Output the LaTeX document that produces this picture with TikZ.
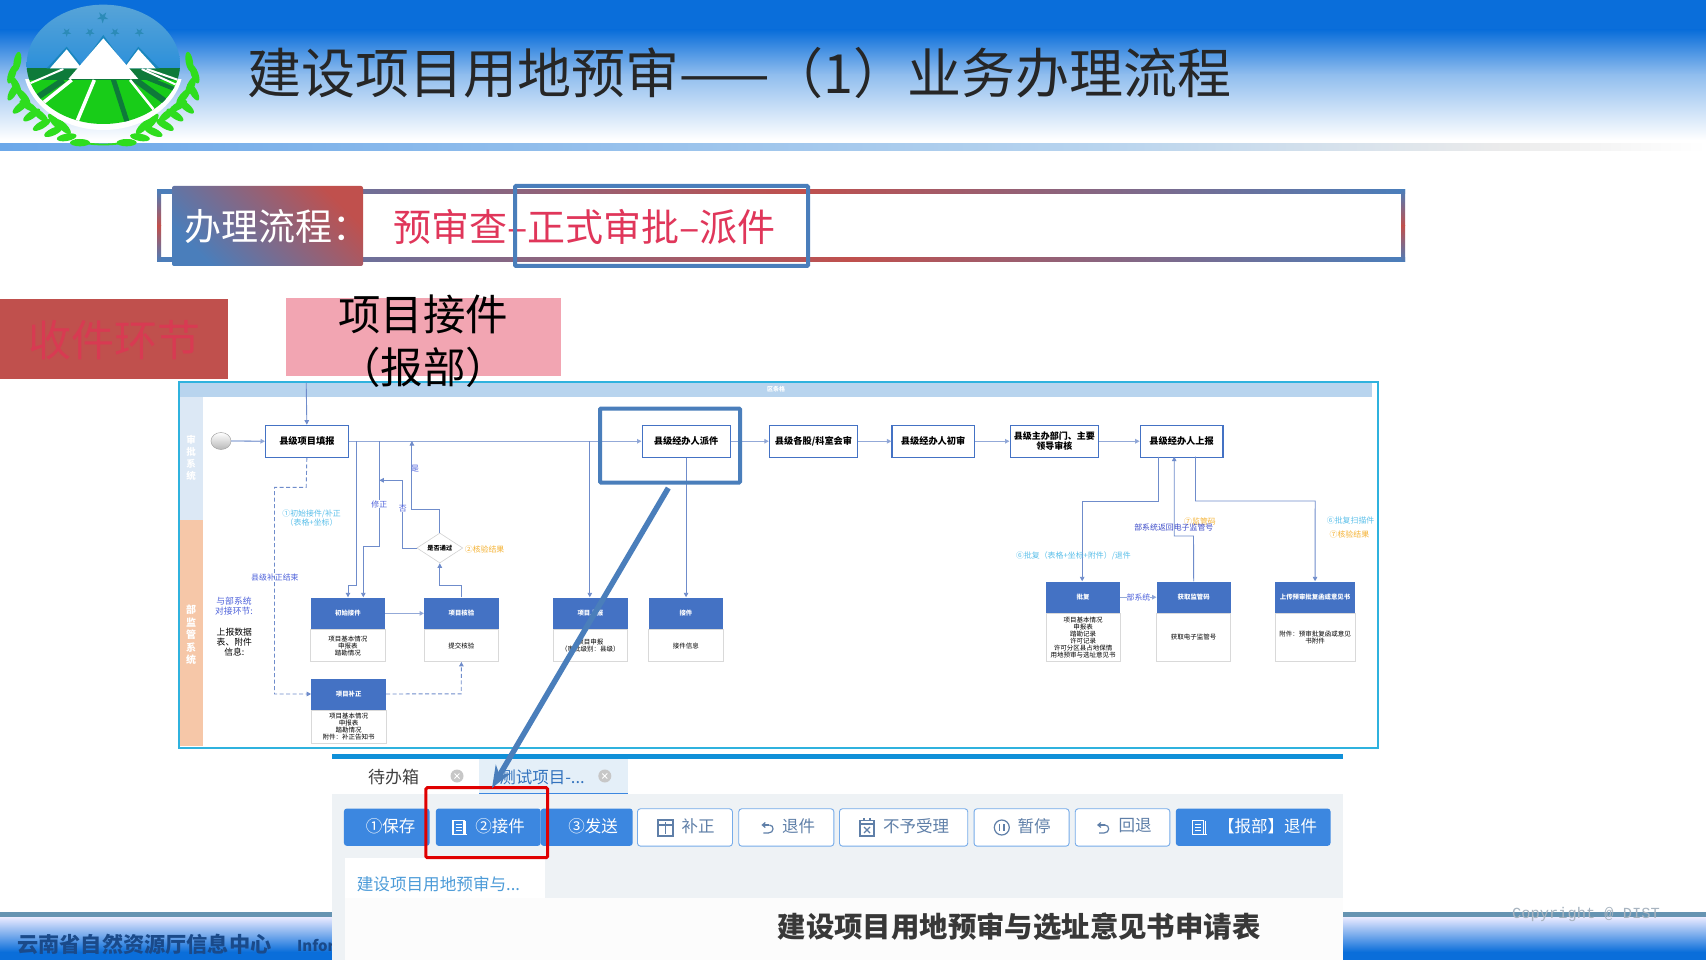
\documentclass[tikz,border=0pt]{standalone}
\usepackage{fontspec}
\setmainfont{Noto Sans CJK SC}
\newfontfamily\cpmono{Liberation Mono}
\usetikzlibrary{arrows.meta,shapes.geometric,calc}
\definecolor{flowc}{HTML}{6F8CCB}
\definecolor{deepb}{HTML}{0A6EDA}
\definecolor{cardb}{HTML}{4472C4}
\definecolor{frameb}{HTML}{2FB2DE}
\definecolor{hiblue}{HTML}{4A7EBB}
\definecolor{wred}{HTML}{C0504D}
\definecolor{lbl}{HTML}{5CC0EA}
\definecolor{org}{HTML}{F5B335}
\definecolor{btn}{HTML}{3C87E0}
\definecolor{btnt}{HTML}{5F7FA8}
\definecolor{panelg}{HTML}{EEF2F5}
\definecolor{leafg}{HTML}{2FDD1E}
\definecolor{stepred}{HTML}{E0365A}
\definecolor{stagered}{HTML}{D83A52}
\definecolor{pinkbox}{HTML}{F2A5B2}
\definecolor{tabstrip}{HTML}{1090D8}
\definecolor{tabbg}{HTML}{E4EFF8}
\definecolor{ftabc}{HTML}{4C9BD8}
\definecolor{peach}{HTML}{F6C7A8}
\definecolor{lanebl}{HTML}{DCE8F5}
\definecolor{bandbl}{HTML}{B8D4EE}
\definecolor{orgtext}{HTML}{1A4A8A}
\definecolor{crgray}{HTML}{A8B4C0}
\definecolor{skytop}{HTML}{5AA5D8}
\definecolor{skybot}{HTML}{2A8FDA}
\definecolor{fieldg}{HTML}{18CC18}
\definecolor{darkg}{HTML}{0E7A3A}
\definecolor{starc}{HTML}{2C8BB8}
\definecolor{ridge}{HTML}{1A86BE}
\newcommand{\fz}[2][1.15]{\fontsize{#2}{\dimexpr#1\dimexpr#2pt\relax\relax}\selectfont}
\tikzset{
 flow/.style={draw=flowc,line width=0.9pt,-{Triangle[length=4.5pt,width=4.5pt]}},
 flowl/.style={draw=flowc!75,line width=1.3pt,-{Triangle[length=4.5pt,width=4.5pt,fill=flowc]}},
 plain/.style={draw=flowc,line width=0.9pt},
 dashflow/.style={draw=flowc,line width=0.9pt,dash pattern=on 4pt off 2.5pt,-{Triangle[length=4.5pt,width=4.5pt,fill=flowc]}},
 taskbox/.style={draw=cardb,line width=1.1pt,fill=white,font=\bfseries\fz{9.2},align=center,inner sep=0pt,anchor=north west},
 cardtitle/.style={fill=cardb,text=white,font=\bfseries\fz{6.4},inner sep=0pt,anchor=north west,align=center},
 cardbody/.style={fill=white,draw=black!15,line width=0.5pt,font=\fz[1.07]{6.5},inner sep=0pt,align=center,anchor=north},
 lab/.style={font=\fz{7.9},inner sep=0pt,align=center},
 btnf/.style={fill=btn,rounded corners=3pt,inner sep=0pt,anchor=north west},
 btno/.style={fill=white,draw=btn!70,line width=0.9pt,rounded corners=3pt,inner sep=0pt,anchor=north west},
 btnl/.style={font=\fz{16.5},inner sep=0pt},
 ico/.style={line width=1.2pt},
}
\newcommand{\card}[8]{%
 \node[cardtitle,minimum width=#4pt,minimum height=#5pt] (#1) at (#2,#3) {#7};
 \node[cardbody,minimum width=#4pt,minimum height=#6pt] (#1b) at (#1.south) {#8};
}
\newcommand{\docico}[3]{%
 \begin{scope}[shift={(#1,#2)},draw=#3,ico]
  \draw (-7,-7) rectangle (4,7);
  \draw (-4.5,-3)--(1.5,-3) (-4.5,0)--(1.5,0) (-4.5,3)--(1.5,3);
  \draw (5.5,-7)--(5.5,7) (4,7)--(7,7);
 \end{scope}}
\newcommand{\undoico}[2]{%
 \begin{scope}[shift={(#1,#2)},ico]
  \draw[-{Straight Barb[length=3pt,width=5pt]},draw=btnt] (3,-1) -- (-5,-1);
  \draw[draw=btnt] (3,-1) .. controls (8,-1) and (8,7) .. (2,7) -- (-3,7);
 \end{scope}}
\begin{document}
\begin{tikzpicture}[x=1pt,y=-1pt]
\useasboundingbox (0,0) rectangle (1706,960);
\fill[white] (0,0) rectangle (1706,960);
% header
\fill[deepb] (0,0) rectangle (1706,30);
\shade[top color=deepb,bottom color=deepb!45!white] (0,30) rectangle (1706,75);
\shade[top color=deepb!45!white,bottom color=white] (0,75) rectangle (1706,140);
\shade[left color=deepb!60!white,right color=bandbl] (0,144) rectangle (1100,151);
\shade[left color=bandbl,right color=black!8] (1100,144) rectangle (1500,151);
\shade[left color=black!8,right color=white] (1500,144) rectangle (1706,151);
% logo
\begin{scope}[x=0.33333pt,y=-0.33333pt]
 \foreach \lx/\ly/\lr in {52/185/80,36/222/70,48/258/-65,40/275/60,70/290/-50,62/320/40,95/345/35,85/318/-30,125/375/30,120/345/-40,160/395/25,165/365/-50,200/412/10,190/380/-45,240/428/0}{
  \fill[leafg,rotate around={\lr:(\lx,\ly)}] (\lx,\ly) ellipse [x radius=30,y radius=11];
  \fill[leafg,rotate around={-\lr:(620-\lx,\ly)}] (620-\lx,\ly) ellipse [x radius=30,y radius=11];
 }
 \draw[leafg,line width=1.8pt] (225,420) .. controls (260,438) and (360,438) .. (395,420);
 \begin{scope}
  \clip (60,240) rectangle (560,440);
  \fill[white] (310,196) ellipse [x radius=240,y radius=194];
 \end{scope}
 \begin{scope}
  \clip (310,193) ellipse [x radius=230,y radius=179];
  \shade[top color=skytop,bottom color=skybot] (70,0) rectangle (550,215);
  \fill[darkg] (70,205) rectangle (550,240);
  \fill[fieldg] (70,240) rectangle (550,380);
  \foreach \a/\b/\c/\d/\w/\k in {190/240/100/300/6/darkg,215/240/115/320/3.5/white,190/207/90/250/2/white,425/207/530/255/2/white,385/212/530/270/4/darkg,440/207/535/240/2/white,400/235/510/315/6/darkg,390/240/470/340/2.5/white,340/238/382/368/5/darkg,283/240/232/362/3.5/white}{
   \draw[\k,line width=\w] (\a,\b) -- (\c,\d);
  }
 \end{scope}
 \fill[ridge] (140,205) -- (200,140) -- (245,195) -- (310,105) -- (375,195) -- (415,140) -- (478,205) -- cycle;
 \fill[white] (150,205) -- (200,148) -- (245,205) -- cycle;
 \fill[white] (372,205) -- (415,148) -- (467,205) -- cycle;
 \fill[white] (205,237) -- (310,115) -- (415,237) -- cycle;
 \foreach \sx/\sy/\ss in {308/52/9,200/97/7,270/97/7,345/97/7,418/97/7}{
  \fill[starc] (\sx,\sy) +(90:\ss*2)
   \foreach \k in {1,...,4}{ -- +(90+\k*144:\ss*2) } -- cycle;
 }
\end{scope}
\node[font=\fz{54},inner sep=0pt,anchor=west,text=black!85] (title) at (247,73) {建设项目用地预审——（1）业务办理流程};
% footer left and right
\fill[blue!40!cyan!50!black!60] (0,912) rectangle (1706,917);
\shade[top color=blue!8!white,bottom color=deepb] (0,917) rectangle (1706,952);
\fill[deepb] (0,952) rectangle (1706,960);
\node[font=\bfseries\fz{21.2},text=orgtext,inner sep=0pt,anchor=west] (org) at (17,944) {云南省自然资源厅信息中心};
\node[font=\bfseries\fz{15},text=orgtext,inner sep=0pt,anchor=west] (info) at (297,945) {Information};
\node[font=\cpmono\fz{15.4},text=crgray,inner sep=0pt] (cr) at (1586,915) {Copyright @ DIST};
% process bar
\shade[left color=hiblue,right color=wred] (157,189.5) rectangle (800,193.5);
\shade[left color=wred,right color=hiblue] (800,189.5) rectangle (1405,193.5);
\shade[left color=hiblue,right color=wred] (157,258) rectangle (850,262);
\shade[left color=wred,right color=hiblue] (850,258) rectangle (1405,262);
\shade[top color=hiblue,bottom color=wred] (157,189.5) rectangle (161,226);
\shade[top color=wred,bottom color=hiblue] (157,226) rectangle (161,262);
\shade[top color=hiblue,bottom color=wred] (1401,189.5) rectangle (1405,226);
\shade[top color=wred,bottom color=hiblue] (1401,226) rectangle (1405,262);
\shade[left color=hiblue,right color=wred,shading angle=135,rounded corners=2pt] (172,186) rectangle (363,266);
\node[font=\fz{37},text=white,inner sep=0pt,anchor=west] (blabel) at (184,227) {办理流程：};
\node[font=\fz{38},text=stepred,inner sep=0pt,anchor=west] (bsteps) at (393,227) {预审查–正式审批–派件};
\draw[hiblue,line width=4pt,rounded corners=1pt] (515,186) rectangle (808,266);
% stage boxes
\node[fill=wred,minimum width=228pt,minimum height=79.7pt,inner sep=0pt,anchor=north west] (stage) at (0,299) {};
\node[font=\fz{43},text=stagered,inner sep=0pt] (stagel) at (114,340) {收件环节};
\node[fill=pinkbox,minimum width=274.5pt,minimum height=77.7pt,inner sep=0pt,anchor=north west] (pink) at (286,298) {};
% swimlane frame
\fill[white] (179,382) rectangle (1378,747.5);
\fill[bandbl] (179,383) rectangle (1372,397);
\fill[lanebl] (179,397) rectangle (202.5,520);
\fill[peach] (179,520) rectangle (202.5,746);
\node[font=\bfseries\fz{6},text=white,inner sep=0pt] (bandl) at (776,389.5) {区条格};
\node[font={\bfseries\fz[1.25]{9.5}},text=white,inner sep=0pt,align=center] (lane1) at (191,458) {审\\批\\系\\统};
\node[font={\bfseries\fz[1.25]{10}},text=white,inner sep=0pt,align=center] (lane2) at (191,635) {部\\监\\管\\系\\统};
\draw[frameb,line width=2pt] (179,382) rectangle (1378,747.5);
\node[font={\fz[1.25]{42.5}},inner sep=0pt,align=center,text=black] (pinkl) at (423,341.5) {项目接件\\（报部）};
% tasks
\shade[top color=white,bottom color=black!28,draw=black!35,line width=0.5pt] (221,441) ellipse [x radius=10,y radius=8.5];
\coordinate (start) at (231,441);
\node[taskbox,minimum width=82.6pt,minimum height=32pt] (t1) at (265,424.7) {县级项目填报};
\node[taskbox,minimum width=88pt,minimum height=32pt] (t2) at (641.5,424.7) {县级经办人派件};
\node[taskbox,minimum width=88.4pt,minimum height=32pt] (t3) at (768.8,424.7) {县级各股/科室会审};
\node[taskbox,minimum width=82.3pt,minimum height=32pt] (t4) at (891.4,424.7) {县级经办人初审};
\node[taskbox,minimum width=88.4pt,minimum height=32pt,font={\bfseries\fz[1.05]{9}}] (t5) at (1009.5,424.7) {县级主办部门、主要\\领导审核};
\node[taskbox,minimum width=82.7pt,minimum height=32pt] (t6) at (1139.7,424.7) {县级经办人上报};
% cards
\card{c1}{310.4}{597.3}{74.6}{31.7}{32}{初始接件}{项目基本情况\\申报表\\踏勘情况}
\card{c2}{424}{597.3}{74.4}{31.7}{32}{项目核验}{提交核验}
\card{c3}{553}{597.3}{74.3}{31.7}{32}{项目上报}{项目申报\\（审批级别：县级）}
\card{c4}{648.4}{597.3}{74.6}{31.7}{32}{接件}{接件信息}
\card{c5}{311.2}{678.3}{74.6}{31}{33}{项目补正}{项目基本情况\\申报表\\踏勘情况\\附件：补正告知书}
\card{c6}{1045.7}{581.3}{74.3}{31.4}{48.3}{批复}{项目基本情况\\申报表\\踏勘记录\\许可记录\\许可分区县占地保情\\用地预审与选址意见书}
\card{c7}{1156.5}{581.3}{74}{31.4}{48.3}{获取监管码}{获取电子监管号}
\card{c8}{1274.7}{581.3}{80.3}{31.4}{48.3}{上传预审批复函或意见书}{附件：预审批复函或意见\\书附件}
\node[shape=diamond,aspect=1.53,minimum width=46pt,minimum height=30pt,inner sep=0pt,draw=black!18,line width=0.6pt,fill=white,font=\bfseries\fz{6.2}] (dia) at (439.8,548) {是否通过};
% named bends
\coordinate (top1) at (306.2,382.5);
\coordinate (b1) at (356.4,441);
\coordinate (b1e) at (348,597.3);
\coordinate (b2) at (379.3,441);
\coordinate (b2e) at (363.3,597.3);
\coordinate (b3) at (411.9,441);
\coordinate (b4) at (589.8,441);
\coordinate (b4e) at (589.8,597.3);
\coordinate (b5) at (379.3,480.3);
\coordinate (t6a) at (1158.6,456.7);
\coordinate (t6b) at (1174.2,456.7);
\coordinate (t6c) at (1195.5,456.7);
\coordinate (c6t) at (1082.2,581.3);
% connectors
\draw[flow] (top1) -- (t1.north);
\draw[flowl] (start) -- (t1.west);
\draw[flowl] (t1.east) -- (t2.west);
\draw[flowl] (t2.east) -- (t3.west);
\draw[flowl] (t3.east) -- (t4.west);
\draw[flowl] (t4.east) -- (t5.west);
\draw[flowl] (t5.east) -- (t6.west);
\draw[flow] (b1) -- (356.4,585) -- (348,585) -- (b1e);
\draw[flow] (b2) -- (379.3,546.7) -- (363.3,546.7) -- (b2e);
\draw[flow] (c2.north) -- ++(0,-12) -| (dia.south);
\draw[flow] (dia.north) -- ++(0,-23) -| (b3);
\draw[flow] (dia.west) -- (402.3,548) -- (402.3,480.3) -- (b5);
\draw[flow] (b4) -- (b4e);
\draw[flow] (t2.south) -- (t2.south |- c4.north);
\draw[flowl] (c1.east) -- (c2.west);
\draw[dashflow] (t1.south) -- (306.2,487.3) -- (274.5,487.3) -- (274.5,694) -- (c5.west);
\draw[dashflow] (c5.east) -- (461.2,693.8) -- (c2b.south);
\draw[flow] (t6a) -- (1158.6,501.3) -- (1082.2,501.3) -- (c6t);
\draw[flow] (c7.north) -- (1193.5,536) -- (1174.2,536) -- (t6b);
\draw[flow] (t6c) -- (1195.5,501) -- (1315.2,501) -- (c8.north);
\draw[flowl] (c6.east) -- (c7.west);
% labels
\node[lab,text=lbl] (l1) at (311.6,518) {①初始接件/补正\\（表格+坐标）};
\node[lab,text=flowc!70!blue] (l2) at (274.9,577.7) {县级补正结束};
\node[lab,text=flowc!70!blue,fill=white] (l3) at (379.3,504) {修正};
\node[lab,text=flowc!70!blue,fill=white] (l4) at (402.7,509) {否};
\node[lab,text=flowc!70!blue] (l5) at (415,469) {是};
\node[lab,text=org] (l6) at (484.6,549.7) {②核验结果};
\node[font={\fz[1.12]{8.8}},inner sep=0pt,align=center,text=flowc!70!blue] (l7) at (234,606.5) {与部系统\\对接环节:};
\node[font={\fz[1.12]{8.8}},inner sep=0pt,align=center] (l8) at (234.3,642) {上报数据\\表、附件\\信息:};
\node[lab,text=lbl] (l9) at (1073.4,555.7) {⑥批复（表格+坐标+附件）/退件};
\node[lab,text=org] (l10) at (1200,521.3) {⑦监管码};
\node[lab,text=flowc!60!blue!90!black] (l11) at (1173.8,527.7) {部系统返回电子监管号};
\node[lab,text=flowc!70!blue,fill=white] (l12) at (1138.5,597) {部系统};
\node[lab,text=lbl] (l13) at (1350.6,520.7) {⑥批复扫描件};
\node[lab,text=org] (l14) at (1349.4,534) {⑦核验结果};
% highlighted step
\draw[hiblue,line width=4pt,rounded corners=1pt] (600,408.5) rectangle (740,482.5);
% system panel
\fill[panelg] (332,794) rectangle (1343,960);
\fill[white] (332,759) rectangle (1343,794);
\fill[tabstrip] (332,754) rectangle (1343,759);
\fill[white] (344.5,858) rectangle (545.4,898);
\fill[black!1] (344.5,898) rectangle (1343,960);
\fill[tabbg] (479,759) rectangle (628,793);
\draw[btn,line width=1.6pt] (479,793.5) -- (628,793.5);
\node[font=\fz{17},inner sep=0pt,text=black!75] (tab1) at (393.7,777) {待办箱};
\node[font=\fz{16.5},inner sep=0pt,text=btn!85!black] (tab2) at (542,777) {测试项目-...};
\foreach \cx in {457,604.8}{
 \fill[black!22] (\cx,776) circle (6.5);
 \draw[white,line width=0.8pt] (\cx-2.5,773.5) -- (\cx+2.5,778.5) (\cx-2.5,778.5) -- (\cx+2.5,773.5);
}
% buttons
\node[btnf,minimum width=85.7pt,minimum height=37.4pt] (bn1) at (343.7,808.3) {};
\node[btnf,minimum width=92pt,minimum height=37.4pt] (bn3) at (540.5,808.3) {};
\node[btnf,minimum width=104.9pt,minimum height=37.4pt] (bn2) at (435.6,808.3) {};
\node[btno,minimum width=95pt,minimum height=37.4pt] (bn4) at (637,808.3) {};
\node[btno,minimum width=95.1pt,minimum height=37.4pt] (bn5) at (738.3,808.3) {};
\node[btno,minimum width=128.3pt,minimum height=37.4pt] (bn6) at (839,808.3) {};
\node[btno,minimum width=95pt,minimum height=37.4pt] (bn7) at (973.6,808.3) {};
\node[btno,minimum width=94.6pt,minimum height=37.4pt] (bn8) at (1074.8,808.3) {};
\node[btnf,minimum width=154.7pt,minimum height=37.4pt] (bn9) at (1175.6,808.3) {};
\node[btnl,text=white] (bl1) at (390.5,826) {①保存};
\node[btnl,text=white] (bl2) at (500,826) {②接件};
\node[btnl,text=white] (bl3) at (593,826) {③发送};
\node[btnl,text=btnt] (bl4) at (698,826) {补正};
\node[btnl,text=btnt] (bl5) at (798.6,826) {退件};
\node[btnl,text=btnt] (bl6) at (916,826) {不予受理};
\node[btnl,text=btnt] (bl7) at (1034,826) {暂停};
\node[btnl,text=btnt] (bl8) at (1135,826) {回退};
\node[btnl,text=white] (bl9) at (1267.6,826) {【报部】退件};
\docico{460}{827.5}{white}
\docico{1199.7}{827.5}{white}
\begin{scope}[ico]
 \draw[btnt] (658,820) rectangle (673,836);
 \draw[btnt] (658,825) -- (673,825) (665.5,822) -- (665.5,834);
 \draw[btnt] (860,820.5) rectangle (874,836);
 \draw[btnt] (860,824) -- (874,824) (864,818) -- (864,821) (870,818) -- (870,821);
 \draw[btnt] (864,827) -- (870,833) (870,827) -- (864,833);
 \draw[btnt] (1001.8,827.5) circle (7.5);
 \draw[btnt] (999.5,824) -- (999.5,831) (1004,824) -- (1004,831);
\end{scope}
\undoico{766.4}{826}
\undoico{1102}{826}
\node[font=\fz{16.6},inner sep=0pt,anchor=west,text=ftabc] (ftab) at (356.6,884) {建设项目用地预审与...};
\node[font=\bfseries\fz{28.4},inner sep=0pt,text=black!78] (ftitle) at (1019,927) {建设项目用地预审与选址意见书申请表};
\draw[red!88!black,line width=3pt,rounded corners=1.5pt] (425.8,787.7) rectangle (547.7,857.7);
% long pointer arrow
\coordinate (pa) at (668.3,488);
\coordinate (pb) at (492,788);
\draw[hiblue,line width=5.5pt,-{Stealth[length=22pt,width=17pt]}] (pa) -- (pb);
\end{tikzpicture}
\end{document}
